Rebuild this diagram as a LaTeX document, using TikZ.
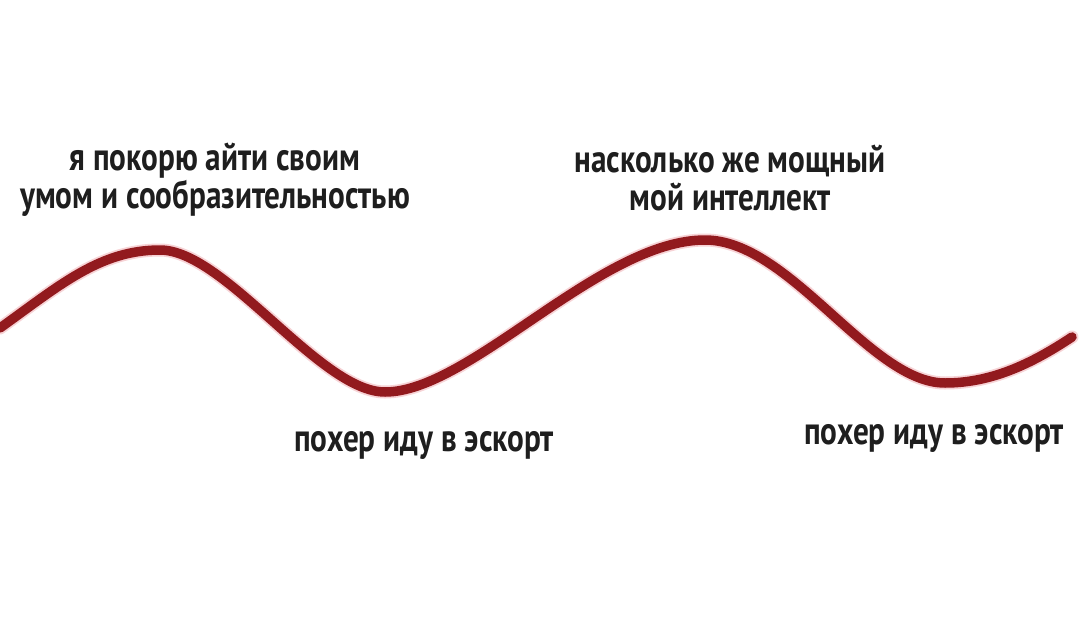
\documentclass[tikz,border=0pt]{standalone}
\usepackage{fontspec}
\setmainfont{PT Sans}[FakeStretch=0.8]
\definecolor{wave}{HTML}{921A1E}
\definecolor{halo}{HTML}{F7D3D6}
\definecolor{ink}{HTML}{1E1E1E}
\begin{document}
\begin{tikzpicture}[x=1pt,y=-1pt,
  lbl/.style={font=\fontsize{39}{38}\selectfont\bfseries, text=ink, align=center, inner sep=0pt}]
\fill[white] (0,0) rectangle (1080,627);
\useasboundingbox (0,0) rectangle (1080,627);
\coordinate (s) at (0,328);
\coordinate (p1) at (160,250);
\coordinate (t1) at (385,392);
\coordinate (p2) at (705,240);
\coordinate (t2) at (945,383);
\coordinate (e) at (1072,337);
\foreach \w/\c in {13/halo, 9.5/wave}{
\draw[line width=\w pt, color=\c, line cap=round] (s) .. controls (60,285) and (100,250) .. (p1)
  .. controls (225,250) and (320,392) .. (t1)
  .. controls (470,392) and (600,240) .. (p2)
  .. controls (790,240) and (870,383) .. (t2)
  .. controls (990,383) and (1030,365) .. (e);
}
\node[lbl] (a) at (215,180) {я покорю айти своим\\умом и сообразительностью};
\node[lbl] (b) at (730,178) {насколько же мощный\\мой интеллект};
\node[lbl] (c) at (424,445) {похер иду в эскорт};
\node[lbl] (d) at (934,438) {похер иду в эскорт};
\end{tikzpicture}
\end{document}
